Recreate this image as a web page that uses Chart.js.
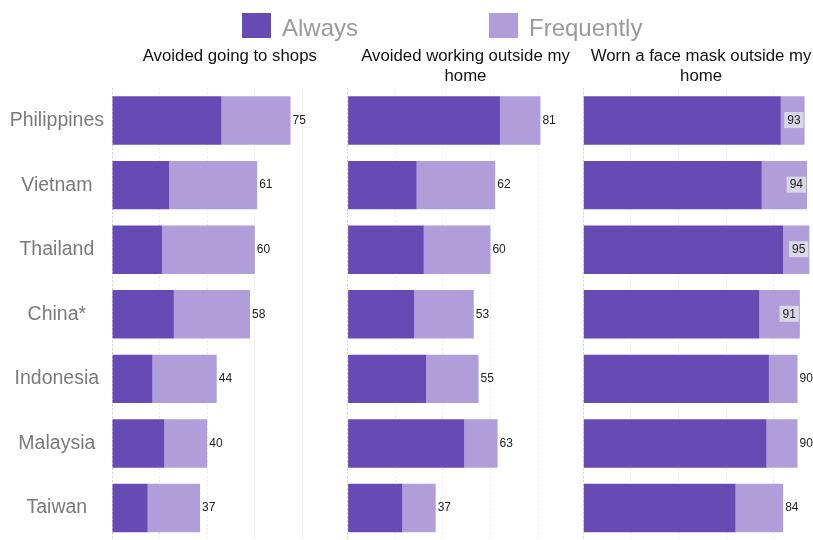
<!DOCTYPE html>
<html>
<head>
<meta charset="utf-8">
<title>Protective behaviours by market</title>
<script src="https://cdn.jsdelivr.net/npm/chart.js@4.4.1/dist/chart.umd.min.js"></script>
<style>
  html, body { margin: 0; padding: 0; background: #fff; overflow: hidden; }
  #wrap { position: relative; width: 830px; height: 560px; }
</style>
</head>
<body>
<div id="wrap"><canvas id="behaviourChart" width="830" height="560"></canvas></div>
<script>
const countries = ["Philippines", "Vietnam", "Thailand", "China*", "Indonesia", "Malaysia", "Taiwan"]
const panelTitles = [
  ["Avoided going to shops"],
  ["Avoided working outside my", "home"],
  ["Worn a face mask outside my", "home"],
]
const seriesNames = ["Always", "Frequently"]
const shopsAlways = [46, 24, 21, 26, 17, 22, 15]
const shopsFrequently = [29, 37, 39, 32, 27, 18, 22]
const workAlways = [64, 29, 32, 28, 33, 49, 23]
const workFrequently = [17, 33, 28, 25, 22, 14, 14]
const maskAlways = [83, 75, 84, 74, 78, 77, 64]
const maskFrequently = [10, 19, 11, 17, 12, 13, 20]
const gridTicks = [0, 20, 40, 60, 80]

const ALWAYS_COLOR = "#674bb5"
const FREQUENT_COLOR = "#b09edb"
const FONT = "'Liberation Sans', Arial, sans-serif"

Chart.defaults.font.family = FONT

const panels = [
  { axis: "x1", always: shopsAlways, frequently: shopsFrequently },
  { axis: "x2", always: workAlways, frequently: workFrequently },
  { axis: "x3", always: maskAlways, frequently: maskFrequently },
]

const datasets = []
panels.forEach((p) => {
  datasets.push({ label: seriesNames[0], data: p.always, xAxisID: p.axis, backgroundColor: ALWAYS_COLOR })
  datasets.push({ label: seriesNames[1], data: p.frequently, xAxisID: p.axis, backgroundColor: FREQUENT_COLOR })
})

// each panel gets its own x axis, laid side by side through the axis stack
function panelAxis() {
  return {
    type: "linear",
    position: "bottom",
    stack: "panels",
    stacked: true,
    min: 0,
    max: 99,
    afterBuildTicks: (scale) => {
      scale.ticks = gridTicks.map((v) => ({ value: v }))
    },
    ticks: { display: false },
    grid: {
      drawTicks: false,
      color: (ctx) => (ctx.tick && ctx.tick.value === 0 ? "#cdcdcd" : "#ebebeb"),
    },
    border: { display: false, dash: [2, 2] },
  }
}

// legend, panel headings and bar totals
const panelDecor = {
  id: "panelDecor",
  afterDatasetsDraw(chart) {
    const { ctx, chartArea } = chart
    ctx.save()
    ctx.font = "12px " + FONT
    ctx.textBaseline = "middle"
    panels.forEach((p, k) => {
      const bars = chart.getDatasetMeta(k * 2 + 1).data
      bars.forEach((bar, i) => {
        const label = String(p.always[i] + p.frequently[i])
        const w = ctx.measureText(label).width
        if (bar.x + 2 + w > chartArea.right - 4) {
          const bw = w + 6
          ctx.fillStyle = "rgba(226, 224, 232, 0.85)"
          ctx.fillRect(bar.x - 1 - bw, bar.y - 8.5, bw, 16)
          ctx.fillStyle = "#222"
          ctx.textAlign = "center"
          ctx.fillText(label, bar.x - 1 - bw / 2, bar.y)
        } else {
          ctx.fillStyle = "#222"
          ctx.textAlign = "left"
          ctx.fillText(label, bar.x + 2, bar.y)
        }
      })
    })
    ctx.restore()
  },
  afterDraw(chart) {
    const { ctx } = chart
    ctx.save()

    // headings over each panel
    ctx.font = "16.8px " + FONT
    ctx.fillStyle = "#111"
    ctx.textAlign = "center"
    ctx.textBaseline = "alphabetic"
    panels.forEach((p, k) => {
      const scale = chart.scales[p.axis]
      const cx = (scale.left + scale.right) / 2
      panelTitles[k].forEach((line, j) => ctx.fillText(line, cx, 61 + j * 20))
    })

    // legend row
    ctx.font = "24px " + FONT
    ctx.textAlign = "left"
    let x = 242
    const colors = [ALWAYS_COLOR, FREQUENT_COLOR]
    seriesNames.forEach((name, i) => {
      ctx.fillStyle = colors[i]
      ctx.fillRect(x, 13, 29, 25)
      ctx.fillStyle = "#9a9a9a"
      ctx.fillText(name, x + 40, 36)
      x += 40 + ctx.measureText(name).width + 131
    })
    ctx.restore()
  },
}

const chart = new Chart(document.getElementById("behaviourChart"), {
  type: "bar",
  data: { labels: countries, datasets: datasets },
  options: {
    indexAxis: "y",
    responsive: false,
    animation: false,
    barPercentage: 0.75,
    categoryPercentage: 1,
    layout: { padding: { top: 88.3, right: 11.1, bottom: 14.3, left: 0 } },
    plugins: { legend: { display: false }, tooltip: { enabled: false } },
    scales: {
      x1: panelAxis(),
      x2: panelAxis(),
      x3: panelAxis(),
      y: {
        type: "category",
        stacked: true,
        grid: { display: false, drawTicks: false },
        border: { display: false },
        ticks: { color: "#7a7a7a", font: { size: 19.5 }, padding: 8, crossAlign: "center" },
        afterFit: (scale) => {
          scale.width = 112
        },
      },
    },
  },
  plugins: [panelDecor],
})
</script>
</body>
</html>
